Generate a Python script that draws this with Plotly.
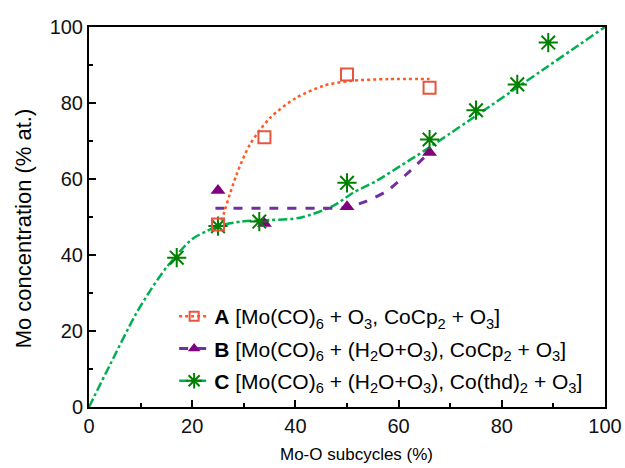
import plotly.graph_objects as go

# ---- data ----
a_x = [25, 34, 50, 66]
a_y = [48, 71, 87.5, 84]
a_fit_x = [25.7, 28.6, 31.2, 35.1, 40.2, 45.4, 50.6, 58, 66]
a_fit_y = [49.0, 61.2, 69.1, 76.1, 81.4, 84.5, 85.8, 86.3, 86.3]

b_x = [25, 34, 50, 66]
b_y = [57, 48.3, 52.7, 67]
b_fit_x = [24.5, 35, 45, 50, 53.8, 57.7, 62.2, 66.1]
b_fit_y = [52.3, 52.3, 52.3, 52.5, 54.2, 56.8, 62.1, 67.2]

c_x = [17, 25, 33, 50, 66, 75, 83, 89]
c_y = [39.3, 47.6, 48.8, 59, 70.4, 78.1, 84.9, 95.9]
c_fit_x = [0, 4.1, 8.9, 11.8, 15, 19.9, 22.8, 25, 29.6, 35, 40.9, 47.3, 51.2, 55.7, 60.3, 65.4, 100]
c_fit_y = [0, 11.2, 24, 30.5, 36.7, 44.1, 46.3, 47.6, 48.8, 49.2, 49.8, 52.9, 56.4, 59.5, 63.4, 67.8, 100]

labels = [
    "<b>A</b> [Mo(CO)<sub>6</sub> + O<sub>3</sub>, CoCp<sub>2</sub> + O<sub>3</sub>]",
    "<b>B</b> [Mo(CO)<sub>6</sub> + (H<sub>2</sub>O+O<sub>3</sub>), CoCp<sub>2</sub> + O<sub>3</sub>]",
    "<b>C</b> [Mo(CO)<sub>6</sub> + (H<sub>2</sub>O+O<sub>3</sub>), Co(thd)<sub>2</sub> + O<sub>3</sub>]",
]

x_ticks = [0, 20, 40, 60, 80, 100]
y_ticks = [0, 20, 40, 60, 80, 100]

# ---- styles ----
a_line = dict(color="#FF5A1F", width=2.5, dash="dot")
b_line = dict(color="#7030A0", width=3, dash="dash")
c_line = dict(color="#00B050", width=2.5, dash="dashdot")
a_mk = dict(symbol="square-open", size=12, color="#E8553F", line=dict(width=2, color="#E8553F"))
b_mk = dict(symbol="triangle-up", size=13, color="#800080")
c_mk = dict(symbol="asterisk-open", size=16, color="#008000", line=dict(width=2, color="#008000"))
leg_mk = [
    dict(symbol="square-open", size=9, color="#E8553F", line=dict(width=2, color="#E8553F")),
    dict(symbol="triangle-up", size=11, color="#800080"),
    dict(symbol="asterisk-open", size=13, color="#008000", line=dict(width=2, color="#008000")),
]

fig = go.Figure()
fig.add_trace(go.Scatter(x=c_fit_x, y=c_fit_y, mode="lines", line=dict(**c_line, shape="spline", smoothing=0.8), showlegend=False))
fig.add_trace(go.Scatter(x=b_fit_x, y=b_fit_y, mode="lines", line=dict(**b_line, shape="spline", smoothing=0.6), showlegend=False))
fig.add_trace(go.Scatter(x=a_fit_x, y=a_fit_y, mode="lines", line=dict(**a_line, shape="spline", smoothing=0.8), showlegend=False))
fig.add_trace(go.Scatter(x=b_x, y=b_y, mode="markers", marker=b_mk, showlegend=False))
fig.add_trace(go.Scatter(x=c_x, y=c_y, mode="markers", marker=c_mk, showlegend=False))
fig.add_trace(go.Scatter(x=a_x, y=a_y, mode="markers", marker=a_mk, showlegend=False))

# legend entries
for lab, ln, mk, g in zip(labels, [a_line, b_line, c_line], leg_mk, ["a", "b", "c"]):
    fig.add_trace(go.Scatter(x=[None], y=[None], mode="lines+markers", line=ln, marker=mk,
                             name=lab, legendgroup=g))

axis_common = dict(
    range=[0, 100], showline=True, linecolor="black", linewidth=2, mirror=True,
    ticks="inside", ticklen=7, tickwidth=1.5, tickcolor="black",
    showgrid=False, zeroline=False, automargin=False,
    tickfont=dict(family="Liberation Sans, Arial", size=20, color="#111"),
    minor=dict(ticks="inside", ticklen=4, tickwidth=1.5, tickcolor="black", dtick=10, showgrid=False),
)

fig.update_layout(
    width=625, height=468,
    margin=dict(l=89, r=20, t=27, b=61),
    paper_bgcolor="white", plot_bgcolor="white",
    xaxis=dict(**axis_common, tickvals=x_ticks),
    yaxis=dict(**axis_common, tickvals=y_ticks),
    showlegend=True,
    legend=dict(x=0.165, y=0.292, xanchor="left", yanchor="top",
                bgcolor="rgba(0,0,0,0)", traceorder="grouped", tracegroupgap=2,
                font=dict(family="Liberation Sans, Arial", size=21, color="black")),
    annotations=[
        dict(text="Mo-O subcycles (%)", xref="paper", yref="paper", x=0.518, y=-0.124,
             xanchor="center", yanchor="middle", showarrow=False,
             font=dict(family="Liberation Sans, Arial", size=17, color="black")),
        dict(text="Mo concentration (% at.)", xref="paper", yref="paper", x=-0.128, y=0.47,
             xanchor="center", yanchor="middle", textangle=-90, showarrow=False,
             font=dict(family="Liberation Sans, Arial", size=22, color="black")),
    ],
)

fig.write_html("out.html")
